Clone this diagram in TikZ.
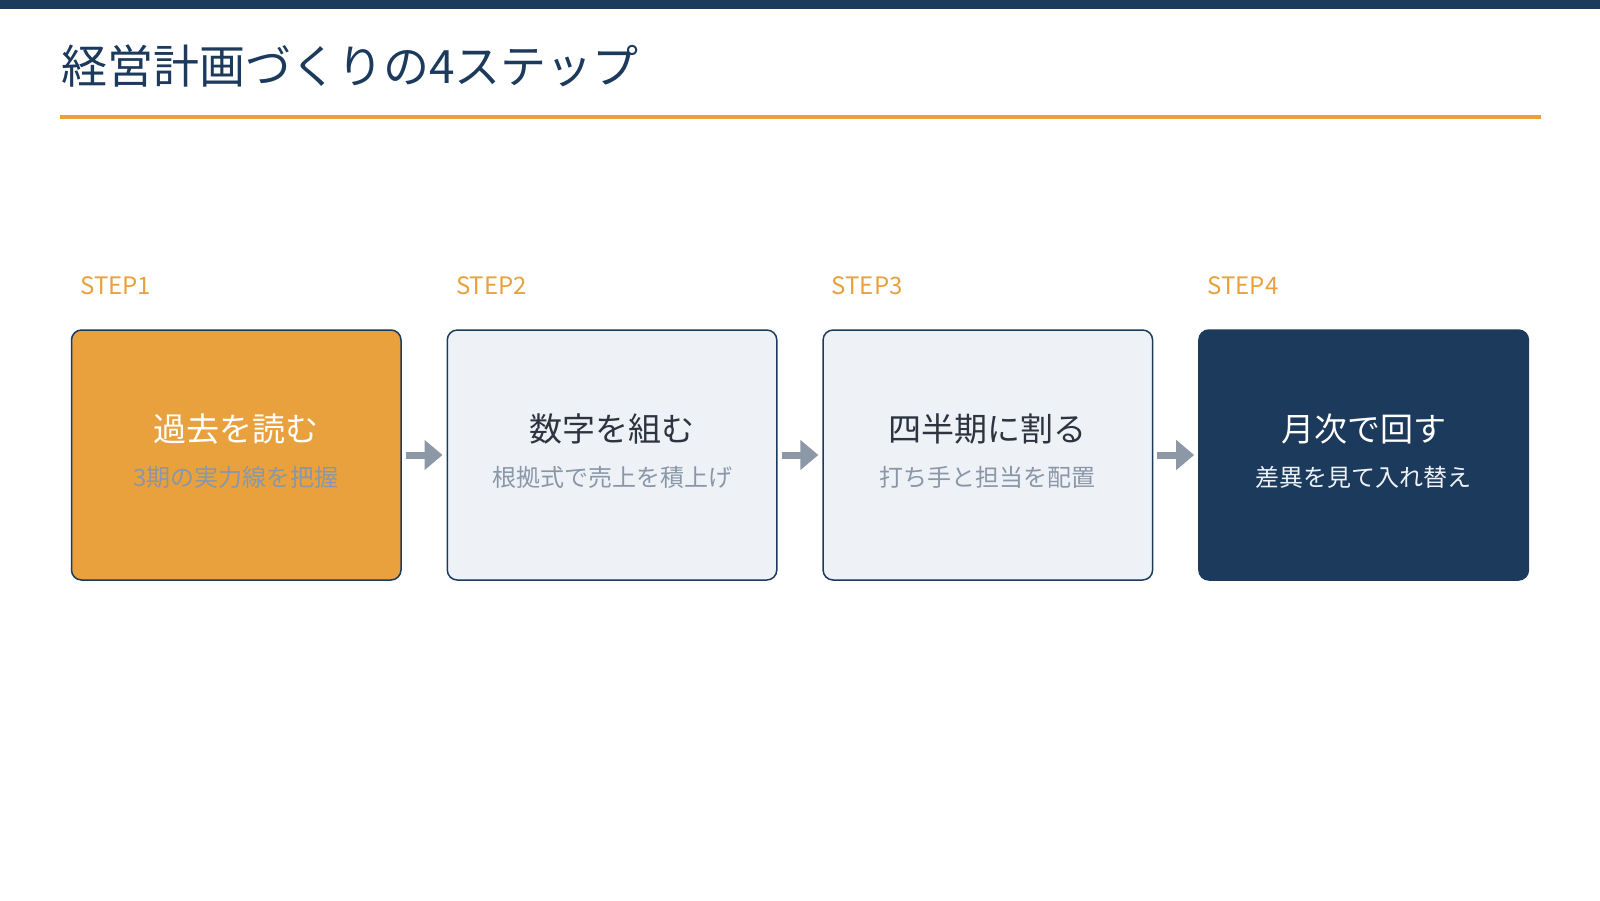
\documentclass[tikz,border=0pt]{standalone}
\usepackage{fontspec}
\setmainfont{Noto Sans CJK JP}
\usetikzlibrary{arrows.meta}
\definecolor{navy}{HTML}{1C3A5C}
\definecolor{accent}{HTML}{E8A13D}
\definecolor{lightbox}{HTML}{EEF2F7}
\definecolor{subgrey}{HTML}{8A97A8}
\definecolor{darktext}{HTML}{2D3440}
\definecolor{arrowgrey}{HTML}{8C98A6}
\definecolor{palewhite}{HTML}{EEF2F7}
\tikzset{
  stepbox/.style={rounded corners=10pt, minimum width=329.5pt, minimum height=250pt, line width=1.5pt, draw=navy, inner sep=0pt},
  steplabel/.style={anchor=west, inner sep=0pt, text=accent, font=\fontsize{24}{28}\selectfont},
  boxtitle/.style={inner sep=0pt, font=\fontsize{33}{40}\selectfont},
  boxsub/.style={inner sep=0pt, font=\fontsize{24}{28}\selectfont},
  flowarrow/.style={draw=arrowgrey, line width=7pt, -{Triangle[length=18pt,width=29pt]}, shorten <=4pt, shorten >=4pt}
}
\begin{document}
\begin{tikzpicture}[x=1pt,y=-1pt]
\useasboundingbox (0,0) rectangle (1600,900);
\fill[white] (0,0) rectangle (1600,900);
% top bar
\fill[navy] (0,0) rectangle (1600,9);
% heading
\node[anchor=west, inner sep=0pt, text=navy, font=\fontsize{46}{54}\selectfont] (heading) at (61,66) {経営計画づくりの4ステップ};
% accent rule
\fill[accent] (60,115) rectangle (1541,119);
% boxes
\node[stepbox, fill=accent] (b1) at (236.25,455) {};
\node[stepbox, fill=lightbox] (b2) at (612.05,455) {};
\node[stepbox, fill=lightbox] (b3) at (987.85,455) {};
\node[stepbox, fill=navy] (b4) at (1363.65,455) {};
% step labels
\node[steplabel] (s1) at (80,286) {STEP1};
\node[steplabel] (s2) at (455.8,286) {STEP2};
\node[steplabel] (s3) at (831.6,286) {STEP3};
\node[steplabel] (s4) at (1207.4,286) {STEP4};
% box texts
\node[boxtitle, text=white] (t1) at (236.25,429) {過去を読む};
\node[boxsub, text=subgrey] (u1) at (236.25,477) {3期の実力線を把握};
\node[boxtitle, text=darktext] (t2) at (612.05,429) {数字を組む};
\node[boxsub, text=subgrey] (u2) at (612.05,477) {根拠式で売上を積上げ};
\node[boxtitle, text=darktext] (t3) at (987.85,429) {四半期に割る};
\node[boxsub, text=subgrey] (u3) at (987.85,477) {打ち手と担当を配置};
\node[boxtitle, text=white] (t4) at (1363.65,429) {月次で回す};
\node[boxsub, text=palewhite] (u4) at (1363.65,477) {差異を見て入れ替え};
% arrows
\draw[flowarrow] (b1.east) -- (b2.west);
\draw[flowarrow] (b2.east) -- (b3.west);
\draw[flowarrow] (b3.east) -- (b4.west);
\end{tikzpicture}
\end{document}
